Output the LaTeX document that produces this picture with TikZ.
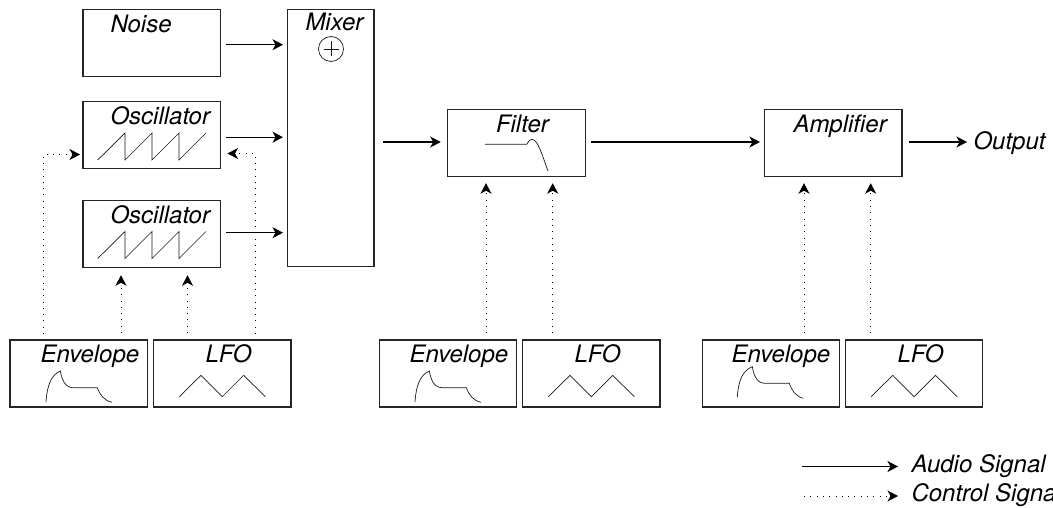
\documentclass[tikz,border=0pt]{standalone}
\usepackage{fontspec}
\setmainfont{TeX Gyre Heros}
\usetikzlibrary{arrows.meta}
\tikzset{
  unit/.style={draw=black!85,line width=1.1pt,inner sep=0pt,outer sep=0pt,minimum width=137.5pt,minimum height=67pt},
  title/.style={anchor=base west,inner sep=0pt,outer sep=0pt,font=\fontsize{24}{28}\selectfont\itshape},
  audio/.style={line width=1.2pt,-{Stealth[length=10.5pt,width=11pt,inset=3pt]}},
  ctrl/.style={line width=0.95pt,dash pattern=on 0.95pt off 5.35pt,-{Stealth[length=10.5pt,width=11pt,inset=3pt]}},
  glyph/.style={line width=0.7pt,draw=black!90,line join=miter}
}
\newcommand{\sawglyph}[1]{\draw[glyph,shift={(83,#1)}] (14.7,0) -- (42,-27) -- (42,0) -- (69,-27) -- (69,0) -- (96,-27) -- (96,0) -- (123,-27);}
\newcommand{\envglyph}[2]{\draw[glyph,shift={(#1,#2)}] (36,62) .. controls (37,46) and (41,35) .. (50.3,31) .. controls (52,40) and (55,47.7) .. (63.3,47.7) -- (87.3,47.7) .. controls (90,55) and (94,60.5) .. (102,62.3);}
\newcommand{\lfoglyph}[2]{\draw[glyph,shift={(#1,#2)}] (25.8,56.7) -- (47.5,35.3) -- (68.8,56.7) -- (90.2,35.3) -- (111.8,56.7);}
\begin{document}
\begin{tikzpicture}[x=1pt,y=-1pt]
\useasboundingbox (0,0) rectangle (1053,508);
% boxes
\node[unit] (noise) at (151.75,43.25) {};
\node[unit] (osc1) at (151.75,135.25) {};
\node[unit] (osc2) at (151.75,233.75) {};
\node[unit,minimum width=86.5pt,minimum height=257pt] (mix) at (330.75,138) {};
\node[unit] (filt) at (516.5,143.2) {};
\node[unit] (amp) at (833.2,143.2) {};
\node[unit] (env1) at (78.75,373.5) {};
\node[unit] (lfo1) at (222.25,373.5) {};
\node[unit] (env2) at (447.85,373.5) {};
\node[unit] (lfo2) at (591.25,373.5) {};
\node[unit] (env3) at (771,373.5) {};
\node[unit] (lfo3) at (914.15,373.5) {};
% titles
\node[title] (tnoise) at (110.5,33) {Noise};
\node[title] (tmix) at (305.5,31) {Mixer};
\node[title] (tosc1) at (110.5,125) {Oscillator};
\node[title] (tosc2) at (110.5,223) {Oscillator};
\node[title] (tfilt) at (496,133) {Filter};
\node[title] (tamp) at (793.5,133) {Amplifier};
\node[title] (tenv1) at (40.5,362) {Envelope};
\node[title] (tlfo1) at (205.5,362) {LFO};
\node[title] (tenv2) at (409.5,362) {Envelope};
\node[title] (tlfo2) at (574.5,362) {LFO};
\node[title] (tenv3) at (731.5,362) {Envelope};
\node[title] (tlfo3) at (897.5,362) {LFO};
\node[title] (out) at (973.5,149.5) {Output};
\node[title] (lega) at (911.5,472.3) {Audio Signal};
\node[title] (legc) at (911.5,501.7) {Control Signal};
% glyphs
\node[draw=black!90,line width=0.7pt,circle,minimum size=25pt,inner sep=0pt,outer sep=0pt] (sum) at (331,49) {};
\draw[glyph] ([xshift=-7.5pt]sum.center) -- ([xshift=7.5pt]sum.center);
\draw[glyph] ([yshift=-7.5pt]sum.center) -- ([yshift=7.5pt]sum.center);
\sawglyph{160}
\sawglyph{258.5}
\envglyph{10}{340}
\envglyph{379}{340}
\draw[glyph] (737.3,397.3) .. controls (738.3,381) and (742.3,370.7) .. (752.3,366.7) .. controls (754,376) and (757,383.3) .. (765.3,383.3) -- (789.3,383.3) .. controls (792,391) and (796,396.5) .. (803.3,398.3);
\lfoglyph{153.5}{340}
\lfoglyph{522.5}{340}
\lfoglyph{845.3}{340}
\draw[glyph] (485,144.3) -- (526.7,144.3) .. controls (529,141) and (530,139.3) .. (531.7,139.3) .. controls (538,139.3) and (542,155) .. (548,171);
% audio connectors
\draw[audio,shorten <=5.5pt,shorten >=4.5pt] (noise.east |- 0,44.7) -- (mix.west |- 0,44.7);
\draw[audio,shorten <=5.5pt,shorten >=4.5pt] (osc1.east |- 0,137.2) -- (mix.west |- 0,137.2);
\draw[audio,shorten <=5.5pt,shorten >=4.5pt] (osc2.east |- 0,232.7) -- (mix.west |- 0,232.7);
\draw[audio,shorten <=9pt,shorten >=7pt] (mix.east |- 0,142) -- (filt.west |- 0,142);
\draw[audio,shorten <=5.5pt,shorten >=4.5pt] (filt.east |- 0,142) -- (amp.west |- 0,142);
\draw[audio,shorten <=7pt,shorten >=6.5pt] (amp.east |- 0,142) -- (out.west |- 0,142);
% control connectors
\draw[ctrl,shorten <=6pt,shorten >=3pt] (43.5,0 |- env1.north) -- (43.5,154.5) -- (osc1.west |- 0,154.5);
\draw[ctrl,shorten <=6pt,shorten >=7pt] (255,0 |- lfo1.north) -- (255,153.5) -- (osc1.east |- 0,153.5);
\draw[ctrl,shorten <=7pt,shorten >=8pt] (121,0 |- env1.north) -- (121,0 |- osc2.south);
\draw[ctrl,shorten <=7pt,shorten >=8pt] (187.5,0 |- lfo1.north) -- (187.5,0 |- osc2.south);
\draw[ctrl,shorten <=7pt,shorten >=6.5pt] (486,0 |- env2.north) -- (486,0 |- filt.south);
\draw[ctrl,shorten <=7pt,shorten >=6.5pt] (552.7,0 |- lfo2.north) -- (552.7,0 |- filt.south);
\draw[ctrl,shorten <=7pt,shorten >=6.5pt] (804,0 |- env3.north) -- (804,0 |- amp.south);
\draw[ctrl,shorten <=7pt,shorten >=6.5pt] (870.7,0 |- lfo3.north) -- (870.7,0 |- amp.south);
% legend
\coordinate (legas) at (802,466.5);
\coordinate (leges) at (898,466.5);
\coordinate (legcs) at (804,496);
\coordinate (legce) at (898,496);
\draw[audio] (legas) -- (leges);
\draw[ctrl] (legcs) -- (legce);
\end{tikzpicture}
\end{document}
